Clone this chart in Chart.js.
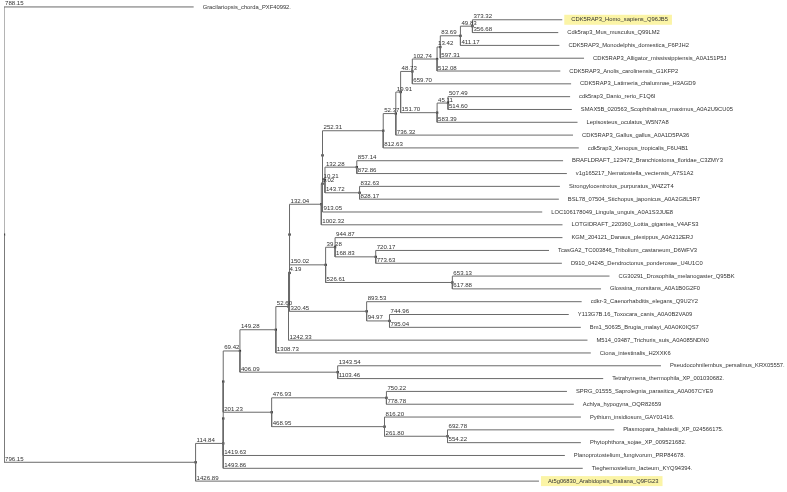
<!DOCTYPE html>
<html><head><meta charset="utf-8">
<script src="https://cdn.jsdelivr.net/npm/chart.js@4/dist/chart.umd.min.js"></script>
<style>html,body{margin:0;padding:0;background:#fff;overflow:hidden}#wrap{width:787px;height:492px;position:relative}</style>
</head><body><div id="wrap"><canvas id="c"></canvas></div>
<script>
// Tree nodes in drawing order (children listed top to bottom)
const nodeIds = ['R','Grac','A','B','X','Y','C','C1','C1a','N1','M','D1','D2','D3','V','H7','H6','H5','H4','H3','H2','H1',
 'Homo','Mus','Mono','Alli','Anol','Lati','F1','F2','Dani','Scop','Lepi','Gall','Xeno','D4','B1','Bran','Nema','E1','Stro','Stic',
 'Ling','Lott','I1','I2','Dana','I3','Trib','Dend','I4','Dros','Glos','N2','Caen','N3','Toxo','Brug','Tric','Cion','C2','Pseu','Tetr',
 'E','F','Sapr','Achl','G','Pyth','G1','Plas','Phyt','Plan','Tieg','Arab'];
const parentIds = [null,'R','R','A','B','X','Y','C','C1','C1a','N1','M','D1','D2','D3','V','H7','H6','H5','H4','H3','H2',
 'H1','H1','H2','H3','H4','H5','H6','F1','F2','F2','F1','H7','V','D3','D4','B1','B1','D4','E1','E1',
 'D2','D1','M','I1','I2','I2','I3','I3','I1','I4','I4','N1','N2','N2','N3','N3','C1a','C1','C','C2','C2',
 'Y','E','F','F','E','G','G','G1','G1','X','B','A'];
const branchLengths = [0,788.15,796.15,114.84,0,0,69.42,149.28,52.60,4.19,0,132.04,5.02,0,252.31,52.37,19.91,48.73,102.74,13.42,83.69,49.83,
 373.32,356.68,411.17,597.31,512.08,659.70,151.70,45.11,507.49,514.60,583.39,736.32,812.63,10.21,132.28,857.14,872.86,143.72,832.63,828.17,
 913.05,1002.32,150.02,39.28,944.87,168.83,720.17,773.63,526.61,653.13,617.88,320.45,893.53,94.97,744.96,795.04,1242.33,1308.73,406.09,1343.54,1103.46,
 201.23,476.93,750.22,778.78,468.95,816.20,261.80,692.78,554.22,1419.63,1493.86,1426.89];
const leafLabels = {
 Grac:'Gracilariopsis_chorda_PXF40992.',
 Homo:'CDK5RAP3_Homo_sapiens_Q96JB5', Mus:'Cdk5rap3_Mus_musculus_Q99LM2', Mono:'CDK5RAP3_Monodelphis_domestica_F6PJH2',
 Alli:'CDK5RAP3_Alligator_mississippiensis_A0A151P5J', Anol:'CDK5RAP3_Anolis_carolinensis_G1KFP2', Lati:'CDK5RAP3_Latimeria_chalumnae_H3AGD9',
 Dani:'cdk5rap3_Danio_rerio_F1Q6I', Scop:'SMAX5B_020563_Scophthalmus_maximus_A0A2U9CU05', Lepi:'Lepisosteus_oculatus_W5N7A8',
 Gall:'CDK5RAP3_Gallus_gallus_A0A1D5PA36', Xeno:'cdk5rap3_Xenopus_tropicalis_F6U4B1',
 Bran:'BRAFLDRAFT_123472_Branchiostoma_floridae_C3ZMY3', Nema:'v1g165217_Nematostella_vectensis_A7S1A2',
 Stro:'Strongylocentrotus_purpuratus_W4Z2T4', Stic:'BSL78_07504_Stichopus_japonicus_A0A2G8L5R7',
 Ling:'LOC106178049_Lingula_unguis_A0A1S3JUE8', Lott:'LOTGIDRAFT_220360_Lottia_gigantea_V4AFS3',
 Dana:'KGM_204121_Danaus_plexippus_A0A212ERJ', Trib:'TcasGA2_TC003846_Tribolium_castaneum_D6WFV3',
 Dend:'D910_04245_Dendroctonus_ponderosae_U4U1C0', Dros:'CG30291_Drosophila_melanogaster_Q95BK',
 Glos:'Glossina_morsitans_A0A1B0G2F0', Caen:'cdkr-3_Caenorhabditis_elegans_Q9U2Y2',
 Toxo:'Y113G7B.16_Toxocara_canis_A0A0B2VA09', Brug:'Bm1_50635_Brugia_malayi_A0A0K0IQS7',
 Tric:'M514_03487_Trichuris_suis_A0A085NDN0', Cion:'Ciona_intestinalis_H2XXK6',
 Pseu:'Pseudocohnilembus_persalinus_KRX05557.', Tetr:'Tetrahymena_thermophila_XP_001030682.',
 Sapr:'SPRG_01555_Saprolegnia_parasitica_A0A067CYE9', Achl:'Achlya_hypogyna_OQR82659',
 Pyth:'Pythium_insidiosum_GAY01416.', Plas:'Plasmopara_halstedii_XP_024566175.', Phyt:'Phytophthora_sojae_XP_009521682.',
 Plan:'Planoprotostelium_fungivorum_PRP84678.', Tieg:'Tieghemostelium_lacteum_KYQ94394.',
 Arab:'At5g06830_Arabidopsis_thaliana_Q9FG23'
};
const highlighted = ['Homo','Arab'];

// ---- layout from the tree (x = cumulative branch length, y = leaf order)
const n = nodeIds.length;
const idx = {}; nodeIds.forEach((id,i)=>idx[id]=i);
const children = nodeIds.map(()=>[]);
parentIds.forEach((p,i)=>{ if(p!==null) children[idx[p]].push(i); });
const depth = new Array(n), order = new Array(n);
let leafCount = 0;
function walk(i, d){
  depth[i] = d + branchLengths[i];
  if(children[i].length===0){ leafCount++; order[i]=leafCount; }
  else { children[i].forEach(c=>walk(c, depth[i])); const ch=children[i]; order[i]=(order[ch[0]]+order[ch[ch.length-1]])/2; }
}
walk(0,0);

const datasets = [];
for(let i=1;i<n;i++){
  const p = idx[parentIds[i]];
  datasets.push({type:'scatter', showLine:true, data:[{x:depth[p],y:order[p]},{x:depth[p],y:order[i]},{x:depth[i],y:order[i]}],
    borderColor:'#6a6a6a', borderWidth:1, pointRadius:0, fill:false, tension:0});
}
const internal = [];
for(let i=0;i<n;i++) if(children[i].length) internal.push({x:depth[i], y:order[i]});
datasets.push({type:'scatter', data:internal, pointStyle:'rect', pointRadius:1.6, backgroundColor:'#111', borderColor:'#111', borderWidth:0});

const FONT = '"Liberation Sans", Arial, sans-serif';
const textPlugin = {
  id:'treeText',
  beforeDatasetsDraw(chart){
    const ctx=chart.ctx, xs=chart.scales.x, ys=chart.scales.y;
    ctx.save();
    ctx.font = '5.8px '+FONT;
    highlighted.forEach(id=>{
      const i=idx[id];
      const tx = xs.getPixelForValue(depth[i])+9, ty = ys.getPixelForValue(order[i]);
      const w = ctx.measureText(leafLabels[id]).width;
      ctx.fillStyle='#fbf4a6';
      ctx.fillRect(tx-7, ty-5, w+11, 10);
    });
    ctx.restore();
  },
  afterDatasetsDraw(chart){
    const ctx=chart.ctx, xs=chart.scales.x, ys=chart.scales.y;
    ctx.save();
    ctx.fillStyle='#333';
    ctx.textBaseline='middle'; ctx.textAlign='left';
    ctx.font = '5.8px '+FONT;
    for(let i=0;i<n;i++){
      const lab = leafLabels[nodeIds[i]];
      if(lab) ctx.fillText(lab, xs.getPixelForValue(depth[i])+9, ys.getPixelForValue(order[i]));
    }
    ctx.font = '6.1px '+FONT;
    ctx.textBaseline='alphabetic';
    for(let i=1;i<n;i++){
      if(!branchLengths[i]) continue;
      const p = idx[parentIds[i]];
      ctx.fillText(branchLengths[i].toFixed(2), xs.getPixelForValue(depth[p])+1, ys.getPixelForValue(order[i])-1.5);
    }
    ctx.restore();
  }
};

const leafTop = 3, leafGap = 13.027, H = 492, W = 787, left = 2, unitPx = 0.2425;
const yMin = 1 - leafTop/leafGap, yMax = yMin + H/leafGap;
new Chart(document.getElementById('c'), {
  type:'scatter',
  data:{datasets},
  options:{
    responsive:true, maintainAspectRatio:false, animation:false, devicePixelRatio:1,
    layout:{padding:{left:left,right:0,top:0,bottom:0}},
    plugins:{legend:{display:false}, tooltip:{enabled:false}},
    events:[],
    scales:{
      x:{type:'linear', min:0, max:(W-left)/unitPx, display:false},
      y:{type:'linear', min:yMin, max:yMax, reverse:true, display:false}
    }
  },
  plugins:[textPlugin]
});
</script>
</body></html>
